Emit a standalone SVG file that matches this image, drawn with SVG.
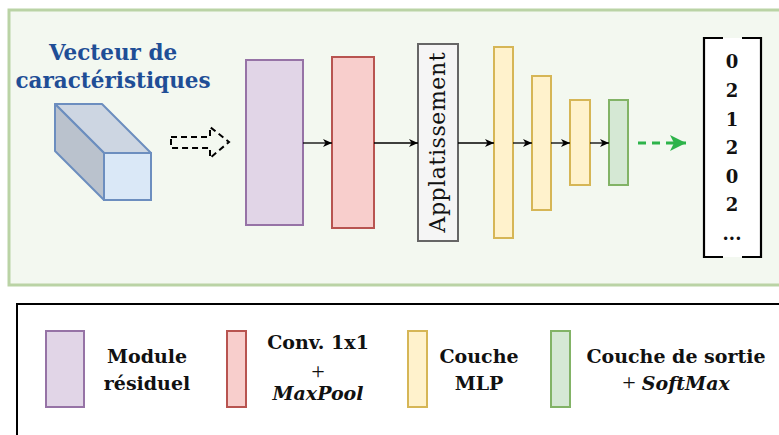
<svg xmlns="http://www.w3.org/2000/svg" width="779" height="435" viewBox="0 0 779 435">
<style>
.t{font-family:"DejaVu Serif","Liberation Serif",serif;fill:#111}
.p{font-family:"Liberation Serif","DejaVu Serif",serif;fill:#111}
.b{font-weight:bold}
.bi{font-weight:bold;font-style:italic}
.c{text-anchor:middle}
.conn{stroke:#000;stroke-width:1.3;fill:none}
.purple{fill:#e1d5e7;stroke:#9673a6;stroke-width:2}
.red{fill:#f8cecc;stroke:#b85450;stroke-width:2}
.yellow{fill:#fff2cc;stroke:#d6b656;stroke-width:2}
.green{fill:#d5e8d4;stroke:#82b366;stroke-width:2}
</style>
<defs>
<marker id="ah" markerWidth="10" markerHeight="10" refX="9" refY="5" orient="auto" markerUnits="userSpaceOnUse">
<path d="M0,1 L9,5 L0,9 L2.5,5 Z" fill="#000"/>
</marker>
<marker id="gh" markerWidth="18" markerHeight="18" refX="16" refY="8" orient="auto" markerUnits="userSpaceOnUse">
<path d="M0,0 L16,8 L0,16 L4,8 Z" fill="#2db34a"/>
</marker>
</defs>
<rect width="779" height="435" fill="#ffffff"/>
<g id="panel">
<rect x="9" y="10" width="790" height="275" fill="#f3f8f0" stroke="#bad3a5" stroke-width="3"/>
</g>
<g id="input">
<text class="t b c" x="113" y="60" font-size="21.5" style="fill:#1f4e96">Vecteur de</text>
<text class="t b c" x="113" y="88" font-size="21.5" style="fill:#1f4e96">caractéristiques</text>
<polygon points="55,104 102,104 151,153 104,153" fill="#cdd6e2" stroke="#6c8ebf" stroke-width="2" stroke-linejoin="round"/>
<polygon points="55,104 104,153 104,200 55,151" fill="#bac2cd" stroke="#6c8ebf" stroke-width="2" stroke-linejoin="round"/>
<rect x="104" y="153" width="47" height="47" fill="#dae8f7" stroke="#6c8ebf" stroke-width="2"/>
</g>
<g id="hollow-arrow">
<path d="M171,137 L210,137 L210,127 L229,142 L210,158 L210,148 L171,148 Z" fill="none" stroke="#000" stroke-width="2" stroke-dasharray="6,4"/>
</g>
<g id="residual"><rect class="purple" x="246" y="60" width="57" height="165"/></g>
<g id="conv"><rect class="red" x="332" y="57" width="42" height="171"/></g>
<g id="flatten">
<rect x="418" y="44" width="40" height="197" fill="#f5f5f5" stroke="#666666" stroke-width="2"/>
<text class="t c" transform="translate(445,142.5) rotate(-90)" x="0" y="0" font-size="22" textLength="180">Applatissement</text>
</g>
<g id="mlp1"><rect class="yellow" x="494" y="47" width="19" height="191"/></g>
<g id="mlp2"><rect class="yellow" x="532" y="76" width="19" height="134"/></g>
<g id="mlp3"><rect class="yellow" x="570" y="100" width="20" height="85"/></g>
<g id="output-layer"><rect class="green" x="609" y="100" width="19" height="85"/></g>
<g id="output">
<rect x="704" y="38" width="57" height="219" fill="#ffffff"/>
<path d="M723,38 H704 V257 H723 M742,38 H761 V257 H742" fill="none" stroke="#000" stroke-width="2.2"/>
<g class="t b c" font-size="18">
<text x="732" y="68">0</text>
<text x="732" y="97">2</text>
<text x="732" y="126">1</text>
<text x="732" y="154">2</text>
<text x="732" y="183">0</text>
<text x="732" y="211">2</text>
<text x="732" y="240">...</text>
</g>
</g>
<g id="connectors">
<line class="conn" x1="303" y1="143" x2="332" y2="143" marker-end="url(#ah)"/>
<line class="conn" x1="374" y1="143" x2="418" y2="143" marker-end="url(#ah)"/>
<line class="conn" x1="458" y1="143" x2="494" y2="143" marker-end="url(#ah)"/>
<line class="conn" x1="513" y1="143" x2="532" y2="143" marker-end="url(#ah)"/>
<line class="conn" x1="551" y1="143" x2="570" y2="143" marker-end="url(#ah)"/>
<line class="conn" x1="590" y1="143" x2="609" y2="143" marker-end="url(#ah)"/>
<line x1="638" y1="143" x2="686" y2="143" stroke="#2db34a" stroke-width="3" stroke-dasharray="8,6" marker-end="url(#gh)"/>
</g>
<g id="legend">
<rect x="17" y="304" width="790" height="160" fill="#ffffff" stroke="#000" stroke-width="2"/>
<rect class="purple" x="46" y="331" width="38" height="76"/>
<text class="t b c" x="147" y="363" font-size="19">Module</text>
<text class="t b c" x="147" y="390" font-size="19">résiduel</text>
<rect class="red" x="227" y="331" width="19" height="76"/>
<text class="t b c" x="318" y="349" font-size="19">Conv. 1x1</text>
<text class="p c" x="318" y="379" font-size="24">+</text>
<text class="t bi c" x="318" y="400" font-size="19">MaxPool</text>
<rect class="yellow" x="408" y="331" width="19" height="76"/>
<text class="t b c" x="479" y="363" font-size="19">Couche</text>
<text class="t b c" x="479" y="390" font-size="19">MLP</text>
<rect class="green" x="551" y="331" width="19" height="76"/>
<text class="t b c" x="676" y="363" font-size="19">Couche de sortie</text>
<text class="c" x="676" y="390"><tspan class="p" font-size="24">+ </tspan><tspan class="t bi" font-size="19">SoftMax</tspan></text>
</g>
</svg>
